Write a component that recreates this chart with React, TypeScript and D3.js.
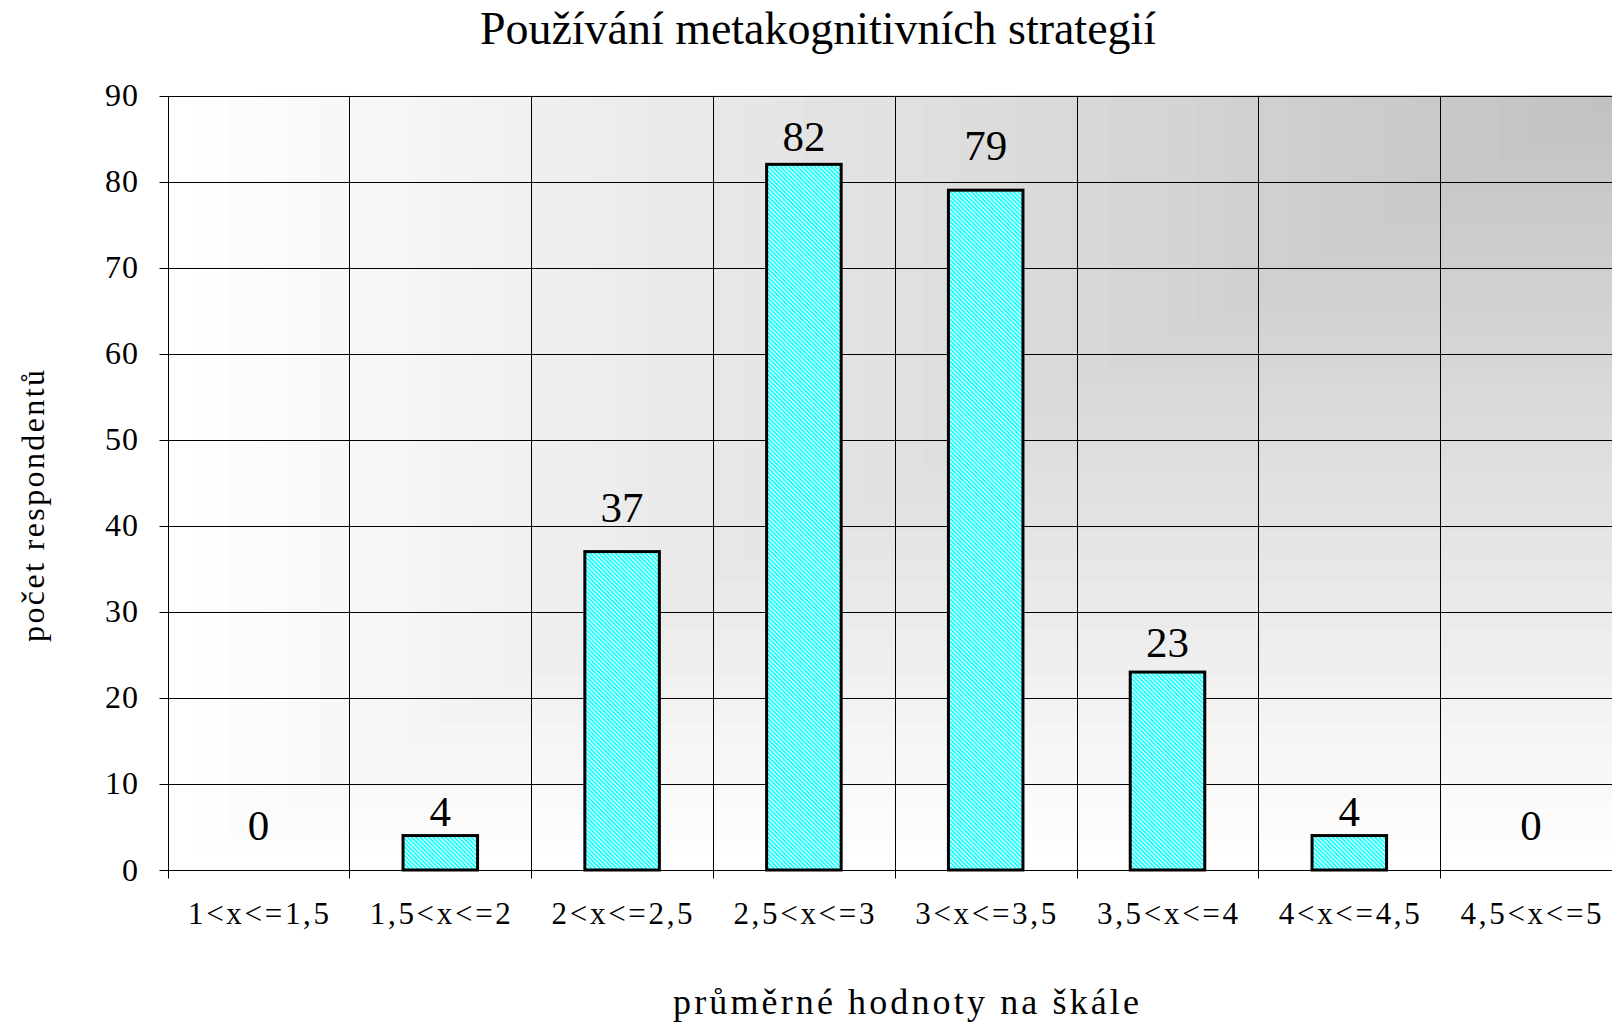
import React from "react";
import * as d3 from "d3";

// kategorie (intervaly průměrných hodnot) a počty respondentů
const categories = [
  "1<x<=1,5",
  "1,5<x<=2",
  "2<x<=2,5",
  "2,5<x<=3",
  "3<x<=3,5",
  "3,5<x<=4",
  "4<x<=4,5",
  "4,5<x<=5",
];
const counts = [0, 4, 37, 82, 79, 23, 4, 0];
const yTickValues = [0, 10, 20, 30, 40, 50, 60, 70, 80, 90];

// posun popisků nad sloupci (px), jak je v originále
const labelGap = [30, 10, 30, 13, 30, 15, 10, 30];

const W = 1612;
const H = 1023;
const left = 167.6;
const top = 95.5;
const bottom = 870;
const step = 181.8;
const right = left + categories.length * step;

const serif = "'Liberation Serif', 'Times New Roman', serif";
const crisp = (v: number) => Math.round(v) + 0.5;

const App: React.FC = () => {
  const x = d3.scaleBand<string>().domain(categories).range([left, right]).padding(0);
  const y = d3.scaleLinear().domain([0, 90]).range([bottom, top]);
  const barW = x.bandwidth() * 0.41;

  // gradient "z rohu" – pásy kolem pravého horního rohu
  const shade = d3.interpolateRgb("#c0c0c0", "#ffffff");
  const bands = d3.range(48, 0, -1).map((k) => k / 48);
  const plotW = right - left;
  const plotH = bottom - top;

  return (
    <svg
      width={W}
      height={H}
      style={{ position: "absolute", left: 0, top: 0, background: "#fff" }}
      fontFamily={serif}
    >
      <defs>
        <pattern
          id="hatch"
          width={3}
          height={3}
          patternUnits="userSpaceOnUse"
          patternTransform="rotate(-45)"
        >
          <rect width={3} height={3} fill="#00ffff" />
          <rect width={1.3} height={3} fill="#ffffff" />
        </pattern>
        <clipPath id="plotClip">
          <rect x={left} y={top} width={plotW} height={plotH} />
        </clipPath>
      </defs>

      {/* pozadí */}
      <g clipPath="url(#plotClip)">
        {bands.map((t) => (
          <rect
            key={t}
            x={right - t * plotW}
            y={top}
            width={t * plotW}
            height={t * plotH}
            fill={shade(t)}
          />
        ))}
      </g>

      {/* mřížka */}
      <g stroke="#000" strokeWidth={1}>
        {yTickValues.map((v) => (
          <line key={v} x1={crisp(left) - 9} x2={right} y1={crisp(y(v))} y2={crisp(y(v))} />
        ))}
        {categories.map((c) => (
          <line
            key={c}
            x1={crisp(x(c)!)}
            x2={crisp(x(c)!)}
            y1={crisp(top)}
            y2={crisp(bottom) + 8}
          />
        ))}
      </g>

      {/* osa y – popisky */}
      <g fontSize={32} textAnchor="end" fill="#000">
        {yTickValues.map((v) => (
          <text key={v} x={139} y={y(v) + 10.5} letterSpacing={1}>
            {v}
          </text>
        ))}
      </g>

      {/* sloupce */}
      {categories.map((c, i) =>
        counts[i] > 0 ? (
          <rect
            key={c}
            x={x(c)! + (x.bandwidth() - barW) / 2}
            y={y(counts[i])}
            width={barW}
            height={bottom - y(counts[i])}
            fill="url(#hatch)"
            stroke="#000"
            strokeWidth={3}
          />
        ) : null
      )}

      {/* hodnoty */}
      <g fontSize={43} textAnchor="middle" fill="#000">
        {categories.map((c, i) => (
          <text key={c} x={x(c)! + x.bandwidth() / 2} y={y(counts[i]) - labelGap[i]}>
            {counts[i]}
          </text>
        ))}
      </g>

      {/* osa x – popisky */}
      <g fontSize={31} textAnchor="middle" fill="#000">
        {categories.map((c) => (
          <text
            key={c}
            x={x(c)! + x.bandwidth() / 2}
            y={924}
            textLength={141}
            lengthAdjust="spacing"
          >
            {c}
          </text>
        ))}
      </g>

      {/* titulky */}
      <text
        x={818}
        y={44}
        fontSize={47}
        textAnchor="middle"
        textLength={676}
        lengthAdjust="spacingAndGlyphs"
      >
        Používání metakognitivních strategií
      </text>
      <text
        x={906}
        y={1014}
        fontSize={36}
        textAnchor="middle"
        textLength={466}
        lengthAdjust="spacing"
      >
        průměrné hodnoty na škále
      </text>
      <text
        x={44}
        y={506}
        fontSize={32}
        textAnchor="middle"
        textLength={272}
        lengthAdjust="spacing"
        transform="rotate(-90, 44, 506)"
      >
        počet respondentů
      </text>
    </svg>
  );
};

export default App;
